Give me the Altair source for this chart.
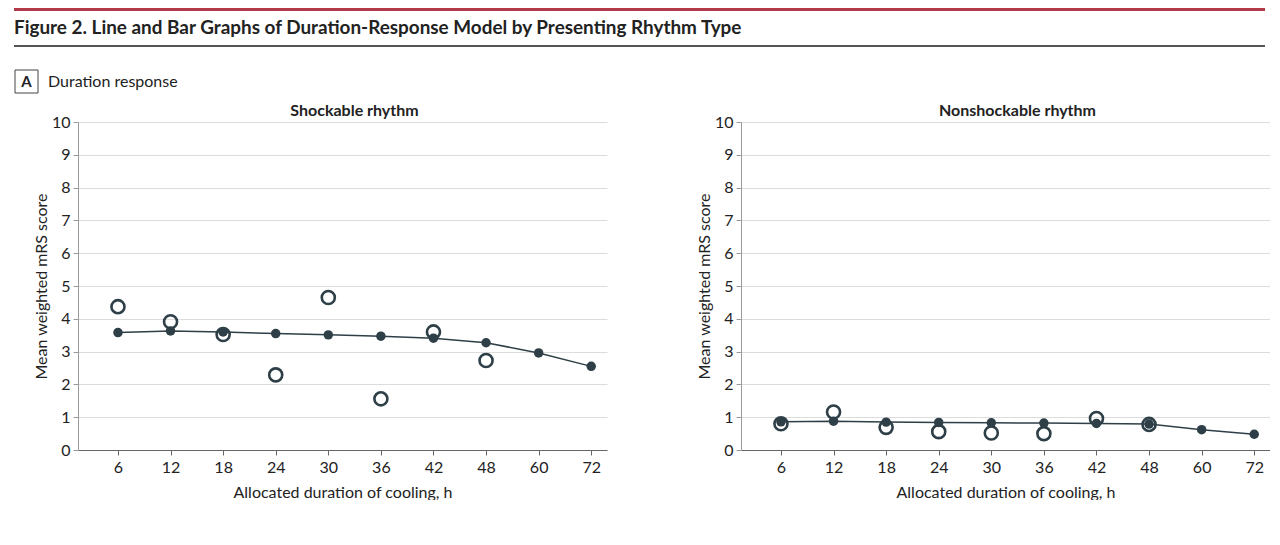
import altair as alt
import pandas as pd

# ---- data ----
durations = ["6", "12", "18", "24", "30", "36", "42", "48", "60", "72"]
shock_model = [3.58, 3.63, 3.60, 3.55, 3.51, 3.47, 3.41, 3.27, 2.96, 2.55]
shock_obs = [4.37, 3.91, 3.52, 2.29, 4.65, 1.56, 3.60, 2.73, None, None]
nonshock_model = [0.86, 0.88, 0.85, 0.84, 0.83, 0.82, 0.81, 0.79, 0.62, 0.48]
nonshock_obs = [0.80, 1.16, 0.69, 0.56, 0.52, 0.50, 0.96, 0.78, None, None]
y_ticks = list(range(0, 11))

FIG_TITLE = "Figure 2. Line and Bar Graphs of Duration-Response Model by Presenting Rhythm Type"
PANEL_LABEL = "A"
PANEL_NAME = "Duration response"
X_TITLE = "Allocated duration of cooling, h"
Y_TITLE = "Mean weighted mRS score"

FONT = "Lato, Roboto, sans-serif"
DARK = "#2e3f47"
TEXT = "#222222"

label_expr = "[" + ",".join("'%s'" % d for d in durations) + "][datum.value]"


def xenc():
    return alt.X(
        "idx:Q",
        scale=alt.Scale(domain=[-0.76, 9.3], nice=False, zero=False),
        axis=alt.Axis(values=list(range(len(durations))), labelExpr=label_expr,
                      title=X_TITLE, grid=False, domainColor="#666666",
                      tickColor="#666666", labelPadding=4, titlePadding=9),
    )


def yenc(field):
    return alt.Y(
        field + ":Q",
        scale=alt.Scale(domain=[0, 10], nice=False),
        axis=alt.Axis(values=y_ticks, title=Y_TITLE, grid=True,
                      domainColor="#9a9a9a", tickColor="#9a9a9a",
                      labelPadding=3, titlePadding=2),
    )


def panel(title, model, obs):
    df = pd.DataFrame({
        "idx": list(range(len(durations))),
        "dur": durations,
        "model": model,
        "obs": obs,
    })
    base = alt.Chart(df)
    circles = base.mark_point(shape="circle", filled=False, size=170,
                              strokeWidth=2.6, color=DARK, opacity=1).encode(
        x=xenc(), y=yenc("obs"))
    line = base.mark_line(color=DARK, strokeWidth=1.5).encode(
        x=xenc(), y=yenc("model"))
    dots = base.mark_circle(size=90, color=DARK, opacity=1).encode(
        x=xenc(), y=yenc("model"))
    return alt.layer(circles, line, dots).properties(
        width=529, height=328,
        title=alt.TitleParams(title, font=FONT, fontSize=16, fontWeight="bold",
                              color=TEXT, anchor="middle", offset=-5, frame="group",
                              dx=12),
    )


one = pd.DataFrame({"k": [0]})
hb = alt.Chart(one)
red_line = hb.mark_rule(color="#b23a48", strokeWidth=3).encode(
    x=alt.value(-64), x2=alt.value(1187), y=alt.value(1.5))
fig_title = hb.mark_text(align="left", baseline="middle", font=FONT, fontSize=18.9,
                         fontWeight="bold", color=TEXT).encode(
    x=alt.value(-64), y=alt.value(20), text=alt.value(FIG_TITLE))
dark_line = hb.mark_rule(color="#555555", strokeWidth=2).encode(
    x=alt.value(-64), x2=alt.value(1187), y=alt.value(38))
box = hb.mark_rect(fill="white", stroke="#444444", strokeWidth=1).encode(
    x=alt.value(-63), x2=alt.value(-40), y=alt.value(62), y2=alt.value(85))
box_label = hb.mark_text(align="center", baseline="middle", font=FONT, fontSize=15,
                         fontWeight="bold", color=TEXT).encode(
    x=alt.value(-51.5), y=alt.value(73.5), text=alt.value(PANEL_LABEL))
panel_name = hb.mark_text(align="left", baseline="middle", font=FONT, fontSize=16,
                          color=TEXT).encode(
    x=alt.value(-30), y=alt.value(73.5), text=alt.value(PANEL_NAME))
header = alt.layer(red_line, fig_title, dark_line, box, box_label, panel_name).properties(
    width=1, height=86)

left = panel("Shockable rhythm", shock_model, shock_obs)
right = panel("Nonshockable rhythm", nonshock_model, nonshock_obs)

chart = alt.vconcat(
    header,
    alt.hconcat(left, right, spacing=89),
    spacing=9,
).properties(
    padding={"left": 4, "top": 0, "right": 0, "bottom": 0},
    background="white",
).configure_view(stroke=None).configure_axis(
    labelFont=FONT, labelFontSize=16, labelColor=TEXT,
    titleFont=FONT, titleFontSize=16, titleFontWeight="normal", titleColor=TEXT,
    tickSize=5, gridColor="#dcdcdc", gridWidth=1,
)

chart.save("out.html", embed_options={"renderer": "svg", "actions": False})
